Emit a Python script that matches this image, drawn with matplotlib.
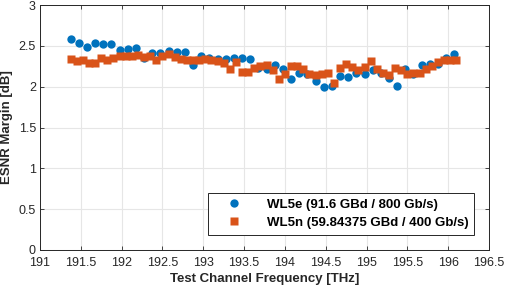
import numpy as np
import matplotlib
matplotlib.use("Agg")
import matplotlib.pyplot as plt

plt.rcParams["font.family"] = ["Liberation Sans", "DejaVu Sans"]

# WL5e: 100 GHz grid, WL5n: 75 GHz grid
f_start = 191.375
wl5e_margin = [2.58, 2.53, 2.49, 2.53, 2.52, 2.52, 2.45, 2.46, 2.47, 2.35,
               2.41, 2.41, 2.44, 2.43, 2.43, 2.27, 2.37, 2.35, 2.34, 2.34,
               2.35, 2.35, 2.34, 2.23, 2.22, 2.26, 2.22, 2.09, 2.17, 2.16,
               2.07, 1.99, 2.01, 2.13, 2.12, 2.17, 2.16, 2.20, 2.17, 2.11,
               2.01, 2.22, 2.16, 2.26, 2.28, 2.28, 2.35, 2.40]
wl5n_margin = [2.34, 2.31, 2.33, 2.29, 2.29, 2.35, 2.33, 2.35, 2.37, 2.38,
               2.38, 2.39, 2.36, 2.37, 2.33, 2.38, 2.40, 2.36, 2.34, 2.33,
               2.33, 2.33, 2.34, 2.33, 2.31, 2.29, 2.22, 2.30, 2.18, 2.18,
               2.23, 2.25, 2.26, 2.21, 2.10, 2.15, 2.25, 2.25, 2.22, 2.15,
               2.14, 2.15, 2.17, 2.05, 2.23, 2.28, 2.24, 2.21, 2.24, 2.32,
               2.22, 2.17, 2.14, 2.23, 2.20, 2.16, 2.17, 2.17, 2.22, 2.25,
               2.30, 2.33, 2.33, 2.33]
wl5e_freq = f_start + 0.1 * np.arange(len(wl5e_margin))
wl5n_freq = f_start + 0.075 * np.arange(len(wl5n_margin))

labels = ["WL5e (91.6 GBd / 800 Gb/s)", "WL5n (59.84375 GBd / 400 Gb/s)"]

fig = plt.figure(figsize=(5.06, 2.90), dpi=100)
ax = fig.add_axes([40 / 506, 40 / 290, 449 / 506, 245 / 290])

ax.plot(wl5e_freq, wl5e_margin, "o", color="#0072BD", ms=6, mec="none",
        label=labels[0], zorder=3)
ax.plot(wl5n_freq, wl5n_margin, "s", color="#D95319", ms=5.2, mec="none",
        label=labels[1], zorder=3)

ax.set_xlim(191, 196.5)
ax.set_ylim(0, 3)
ax.set_xticks(np.arange(191, 196.51, 0.5))
ax.set_xticklabels(["191", "191.5", "192", "192.5", "193", "193.5", "194",
                    "194.5", "195", "195.5", "196", "196.5"])
ax.set_yticks(np.arange(0, 3.01, 0.5))
ax.set_yticklabels(["0", "0.5", "1", "1.5", "2", "2.5", "3"])
ax.grid(True, color="#e6e6e6", lw=0.8)
ax.set_axisbelow(True)
ax.tick_params(direction="in", length=3, width=0.6, colors="#262626",
               labelsize=9, top=True, right=True)
ax.tick_params(axis="x", pad=5)
ax.tick_params(axis="y", pad=3)
for s in ax.spines.values():
    s.set_color("#262626")
    s.set_linewidth(0.7)

ax.set_xlabel("Test Channel Frequency [THz]", fontsize=9.5, fontweight="bold",
              color="#262626", labelpad=3)
ax.set_ylabel("ESNR Margin [dB]", fontsize=9.5, fontweight="bold",
              color="#262626", labelpad=4)

leg = ax.legend(loc="lower right", bbox_to_anchor=(0.982, 0.035),
                prop={"weight": "bold", "size": 9.5}, fancybox=False,
                edgecolor="#262626", framealpha=1, handletextpad=1.0,
                borderpad=0.45, labelspacing=0.45, handlelength=3.0)
leg.get_frame().set_linewidth(0.7)

fig.savefig("out.png", dpi=100)
